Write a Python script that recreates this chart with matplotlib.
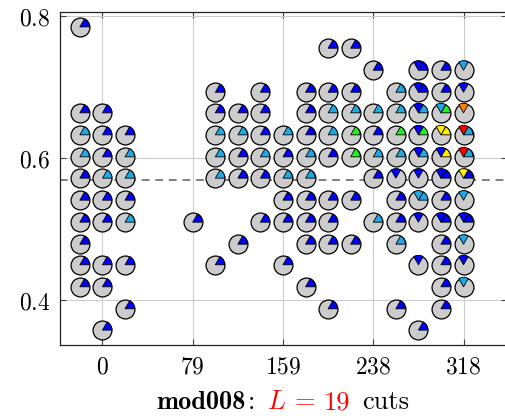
import numpy as np
import matplotlib
matplotlib.use('Agg')
import matplotlib.pyplot as plt
from matplotlib.path import Path
from matplotlib.offsetbox import TextArea, HPacker, AnnotationBbox

plt.rcParams['mathtext.fontset'] = 'cm'

# cut positions (one column of glyphs per cut)
cut_x = [-19.9, 0.0, 19.9, 79.5, 99.4, 119.3, 139.1, 159.0,
         178.9, 198.8, 218.6, 238.5, 258.4, 278.3, 298.1, 318.0]
tick_vals = [0, 79.5, 159, 238.5, 318]
tick_text = ['0', '79', '159', '238', '318']

# ratio values per column
ratios = [
    [0.784, 0.663, 0.632, 0.601, 0.571, 0.540, 0.509, 0.478, 0.449, 0.418],
    [0.663, 0.632, 0.601, 0.571, 0.540, 0.509, 0.449, 0.418, 0.357],
    [0.632, 0.601, 0.571, 0.540, 0.509, 0.449, 0.387],
    [0.509],
    [0.692, 0.663, 0.632, 0.601, 0.571, 0.449],
    [0.663, 0.632, 0.601, 0.571, 0.478],
    [0.692, 0.663, 0.632, 0.601, 0.571, 0.509],
    [0.632, 0.601, 0.571, 0.540, 0.509, 0.449],
    [0.692, 0.663, 0.632, 0.601, 0.571, 0.540, 0.509, 0.478, 0.418],
    [0.754, 0.692, 0.663, 0.632, 0.601, 0.540, 0.509, 0.478, 0.387],
    [0.754, 0.692, 0.663, 0.632, 0.601, 0.540, 0.478],
    [0.723, 0.663, 0.632, 0.601, 0.571, 0.509],
    [0.692, 0.663, 0.632, 0.601, 0.571, 0.540, 0.509, 0.478, 0.387],
    [0.723, 0.692, 0.663, 0.632, 0.601, 0.571, 0.540, 0.509, 0.449, 0.357],
    [0.723, 0.692, 0.663, 0.632, 0.601, 0.571, 0.540, 0.509, 0.478, 0.449, 0.418, 0.387],
    [0.723, 0.692, 0.663, 0.632, 0.601, 0.571, 0.540, 0.509, 0.478, 0.449, 0.418],
]
# wedge colours, one char per glyph ('-' = no wedge)
right_wedge = ["bbccbbbbbb", "bbbcbbbbb", "bccbcbb", "b", "bbcccb", "bcbbb",
               "bbbcbb", "cbcbbb", "bbbccbbbb", "bbccbbbbb", "bbcggbb", "bcbcbc",
               "ccgc-bbcb", "bbcgc-c--b", "bbgyybbbbbbb", "---ccb-b---"]
top_wedge = ["----------", "---------", "-------", "-", "------", "-----",
             "------", "------", "---------", "---------", "-------", "------",
             "----b----", "bbbbbbcbb-", "--cybb-b----", "cborrycbcbc"]

colours = {'b': '#0000ff', 'c': '#1ca9e6', 'g': '#22ee22', 'y': '#ffee00',
           'o': '#ff7f00', 'r': '#ff0000'}


def wedge(t1, t2):
    t = np.radians(np.linspace(t1, t2, 31))
    verts = np.vstack([[0, 0], np.column_stack([np.cos(t), np.sin(t)]), [0, 0]])
    codes = [Path.MOVETO] + [Path.LINETO] * 31 + [Path.CLOSEPOLY]
    return Path(verts, codes)


fig = plt.figure(figsize=(5.06, 4.16), dpi=100)
ax = fig.add_axes([60 / 506, 71 / 416, 447 / 506, 333 / 416])

ax.set_xlim(-37.4, 356.3)
ax.set_ylim(0.336, 0.805)
ax.grid(True, color='#cccccc', lw=0.8, zorder=0)
ax.set_axisbelow(True)
ax.axhline(0.569, color='#808080', ls=(0, (4, 3)), lw=1.4, zorder=1)

px, py = [], []
wx = {'r': [], 't': []}
for x, ys, rw, tw in zip(cut_x, ratios, right_wedge, top_wedge):
    for y, a, b in zip(ys, rw, tw):
        px.append(x)
        py.append(y)
        if a != '-':
            wx['r'].append((x, y, colours[a]))
        if b != '-':
            wx['t'].append((x, y, colours[b]))

size = 185
ax.scatter(px, py, s=size, marker='o', facecolor='#cccccc', edgecolor='black',
           linewidths=0.9, zorder=3)
for key, (t1, t2) in [('r', (0, 60)), ('t', (60, 120))]:
    pts = wx[key]
    ax.scatter([p[0] for p in pts], [p[1] for p in pts], s=size, marker=wedge(t1, t2),
               c=[p[2] for p in pts], edgecolor='black', linewidths=0.6, zorder=4)

ax.set_xticks(tick_vals)
ax.set_xticklabels(['$%s$' % t for t in tick_text])
ax.set_yticks([0.4, 0.6, 0.8])
ax.set_yticklabels(['$0.4$', '$0.6$', '$0.8$'])
ax.tick_params(direction='in', length=4, width=0.8, color='#444444',
               top=True, right=True, labelsize=17)
ax.tick_params(axis='x', pad=7)
ax.tick_params(axis='y', pad=7)
for s in ax.spines.values():
    s.set_color('#222222')
    s.set_linewidth(0.9)

fs = 19
head = HPacker(children=[TextArea('mod008', textprops=dict(family='cmb10', size=fs)),
                         TextArea(':', textprops=dict(family='cmr10', size=fs))],
               align='baseline', pad=0, sep=1)
eq = HPacker(children=[TextArea('$L$', textprops=dict(color='red', size=fs)),
                       TextArea('=', textprops=dict(family='cmr10', color='red', size=fs)),
                       TextArea('19', textprops=dict(family='cmr10', color='red', size=fs))],
             align='baseline', pad=0, sep=6)
label = HPacker(children=[head, eq,
                          TextArea('cuts', textprops=dict(family='cmr10', size=fs))],
                align='baseline', pad=0, sep=9)
ab = AnnotationBbox(label, (283 / 506, 14 / 416), xycoords='figure fraction',
                    frameon=False, box_alignment=(0.5, 0.5))
fig.add_artist(ab)

fig.savefig('out.png', dpi=100)
